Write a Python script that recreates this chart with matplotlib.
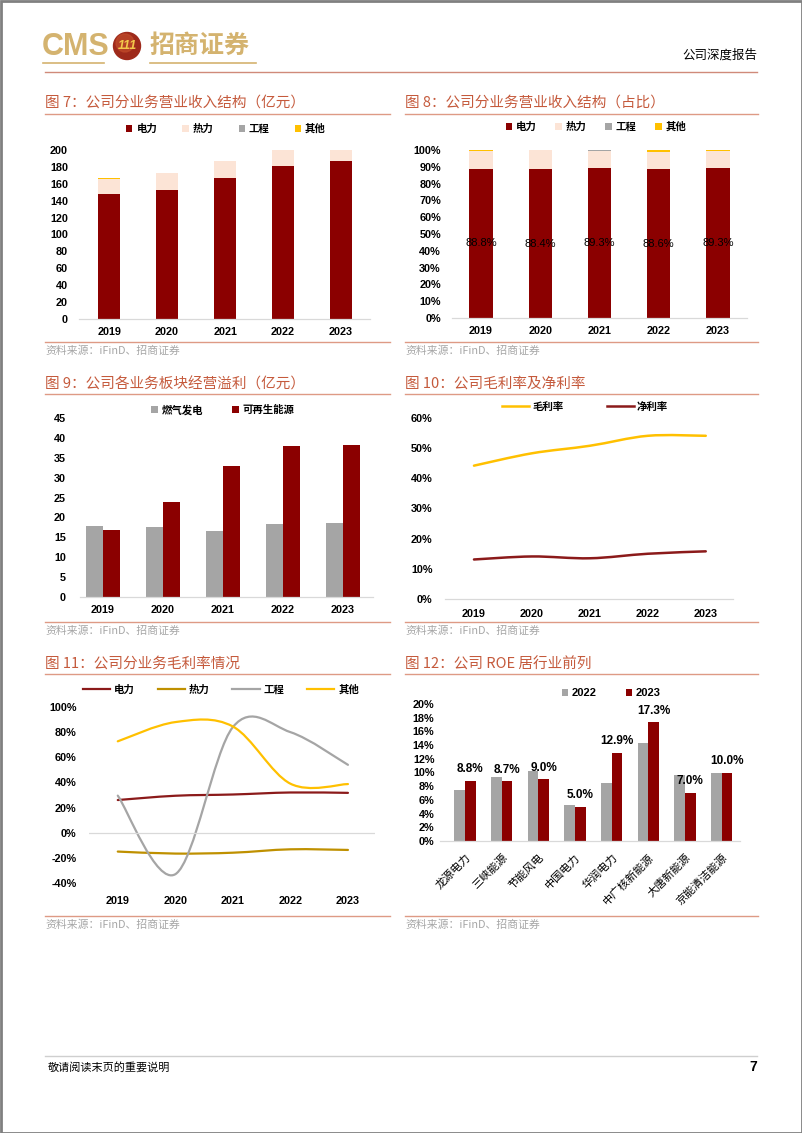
import matplotlib
matplotlib.use('Agg')
import matplotlib.pyplot as plt
import numpy as np
from matplotlib.path import Path
from matplotlib.patches import PathPatch, Patch, Circle, Rectangle
from matplotlib.lines import Line2D
from matplotlib.ticker import FuncFormatter

plt.rcParams['font.family'] = ['Liberation Sans', 'Noto Sans CJK SC', 'DejaVu Sans']

# ---------------- data ----------------
years = ['2019', '2020', '2021', '2022', '2023']

# Fig 7: revenue by segment (亿元)
rev_power = [148, 153, 167, 181, 187]
rev_heat = [17.6, 19.9, 19.4, 21.3, 21.1]
rev_eng = [0.3, 0.2, 0.2, 0.2, 0.2]
rev_other = [0.7, 0.0, 0.6, 1.8, 1.0]
rev_labels = ['电力', '热力', '工程', '其他']

# Fig 8: revenue share (%)
pct_power = [88.8, 88.4, 89.3, 88.6, 89.3]
pct_heat = [10.6, 11.5, 10.4, 10.4, 10.1]
pct_eng = [0.2, 0.1, 0.1, 0.1, 0.1]
pct_other = [0.4, 0.0, 0.2, 0.9, 0.5]

# Fig 9: segment operating profit (亿元)
seg_labels = ['燃气发电', '可再生能源']
seg_gas = [17.95, 17.6, 16.7, 18.4, 18.7]
seg_renew = [16.9, 23.8, 33.0, 37.9, 38.2]

# Fig 10: margins (%)
margin_labels = ['毛利率', '净利率']
gross_margin = [44.2, 48.3, 50.8, 54.1, 54.1]
net_margin = [13.1, 14.1, 13.5, 15.0, 15.8]

# Fig 11: gross margin by segment (%)
gm_labels = ['电力', '热力', '工程', '其他']
gm_power = [26.0, 29.4, 30.4, 32.0, 31.7]
gm_heat = [-15.0, -16.6, -15.9, -13.2, -13.7]
gm_eng = [29.5, -33.0, 84.0, 80.0, 54.0]
gm_other = [72.7, 88.0, 84.5, 39.0, 38.7]

# Fig 12: ROE comparison (%)
roe_companies = ['龙源电力', '三峡能源', '节能风电', '中国电力', '华润电力', '中广核新能源', '大唐新能源', '京能清洁能源']
roe_2022 = [7.4, 9.3, 10.2, 5.3, 8.5, 14.3, 9.7, 9.95]
roe_2023 = [8.8, 8.7, 9.0, 5.0, 12.9, 17.3, 7.0, 10.0]
roe_years = ['2022', '2023']

# ---------------- styles ----------------
W, H = 802, 1133
RED = '#8B0000'
PINK = '#FCE4D6'
GRAY = '#A5A5A5'
YEL = '#FFC000'
TITLE_C = '#C55A3C'
LINE_C = '#DE9A85'
SRC_C = '#A6A6A6'
AX_C = '#D9D9D9'
CJK = ['Noto Sans CJK SC', 'DejaVu Sans']
TICKFS = 7.8

fig = plt.figure(figsize=(W / 100, H / 100), dpi=100)
bg = fig.add_axes([0, 0, 1, 1], zorder=0)
bg.set_xlim(0, W)
bg.set_ylim(H, 0)
bg.axis('off')


def add_ax(l, t, r, b):
    ax = fig.add_axes([l / W, 1 - b / H, (r - l) / W, (b - t) / H], zorder=2)
    ax.set_facecolor('none')
    for s in ['top', 'right', 'left']:
        ax.spines[s].set_visible(False)
    ax.spines['bottom'].set_color(AX_C)
    ax.spines['bottom'].set_linewidth(0.9)
    ax.tick_params(length=0, labelsize=TICKFS)
    return ax


def bold_ticks(ax):
    for lab in ax.get_xticklabels() + ax.get_yticklabels():
        lab.set_fontweight('bold')
        lab.set_fontsize(TICKFS)


def panel(x0, x1, ytitle, yline, ysrc, title):
    bg.text(x0, ytitle, title, color=TITLE_C, fontsize=10.5, va='center', ha='left', family=CJK)
    bg.plot([x0, x1], [yline, yline], color=LINE_C, lw=1.0)
    bg.plot([x0, x1], [ysrc, ysrc], color=LINE_C, lw=1.0)
    bg.text(x0, ysrc + 9, '资料来源：iFinD、招商证券', color=SRC_C, fontsize=7.8, va='center', ha='left', family=CJK)


def legend(ax, handles, labels, cx, cy, **kw):
    leg = ax.legend(handles, labels, loc='center', bbox_to_anchor=(cx / W, 1 - cy / H),
                    bbox_transform=fig.transFigure, ncol=len(labels), frameon=False,
                    prop={'family': CJK, 'size': 7.5, 'weight': 'bold'}, borderpad=0, **kw)
    return leg


def smooth(ax, xs, ys, **kw):
    pts = np.column_stack([xs, ys]).astype(float)
    n = len(pts)
    verts = [pts[0]]
    codes = [Path.MOVETO]
    for i in range(n - 1):
        p0 = pts[max(i - 1, 0)]
        p1 = pts[i]
        p2 = pts[i + 1]
        p3 = pts[min(i + 2, n - 1)]
        c1 = p1 + (p2 - p0) / 6.0
        c2 = p2 - (p3 - p1) / 6.0
        verts += [c1, c2, p2]
        codes += [Path.CURVE4] * 3
    ax.add_patch(PathPatch(Path(verts, codes), fill=False, capstyle='round', **kw))


# ---------------- page decoration ----------------
bg.add_patch(Rectangle((0.5, 0.5), W - 1, H - 1, fill=False, ec='#808080', lw=2))
bg.text(42, 47, 'CMS', color='#D4B36F', fontsize=22, fontweight='bold', va='center', ha='left',
        family=['Liberation Sans Narrow', 'Liberation Sans'])
bg.add_patch(Circle((127, 46), 13.5, color='#9E2A1B'))
bg.add_patch(Circle((125, 43), 9, color='#C04A2A', alpha=0.7))
bg.text(127, 46, '111', color='#F2C84B', fontsize=9, fontweight='bold', style='italic', ha='center', va='center')
bg.text(150, 46, '招商证券', color='#D4B36F', fontsize=18, fontweight='bold', va='center', ha='left', family=CJK)
bg.plot([43, 104], [63, 63], color='#D4B36F', lw=1.2)
bg.plot([150, 256], [63, 63], color='#D4B36F', lw=1.2)
bg.text(757, 55, '公司深度报告', fontsize=9, va='center', ha='right', family=CJK)
bg.plot([45, 757], [72, 72], color='#D08A7A', lw=1.0)
bg.plot([45, 757], [1056, 1056], color='#CFCFCF', lw=1.0)
bg.text(48, 1067, '敬请阅读末页的重要说明', fontsize=8, va='center', ha='left', family=CJK)
bg.text(757, 1067, '7', fontsize=10, fontweight='bold', va='center', ha='right')

# ---------------- Fig 7 ----------------
panel(45, 390, 103, 114, 342, '图 7：公司分业务营业收入结构（亿元）')
ax = add_ax(79, 150, 370, 319)
x = np.arange(len(years))
w = 0.38
b1 = ax.bar(x, rev_power, w, color=RED)
bot = np.array(rev_power, float)
b2 = ax.bar(x, rev_heat, w, bottom=bot, color=PINK)
bot = bot + rev_heat
b3 = ax.bar(x, rev_eng, w, bottom=bot, color=GRAY)
bot = bot + rev_eng
b4 = ax.bar(x, rev_other, w, bottom=bot, color=YEL)
ax.set_xlim(-0.52, 4.5)
ax.set_ylim(0, 200)
ax.set_yticks(range(0, 201, 20))
ax.set_xticks(x, years)
ax.tick_params(axis='y', pad=8)
ax.tick_params(axis='x', pad=6)
bold_ticks(ax)
legend(ax, [b1, b2, b3, b4], rev_labels, 226, 129, handlelength=0.6, handleheight=0.6,
       handletextpad=0.4, columnspacing=2.4)

# ---------------- Fig 8 ----------------
panel(405, 758, 103, 114, 342, '图 8：公司分业务营业收入结构（占比）')
ax = add_ax(452, 150, 747, 318)
w = 0.39
c1 = ax.bar(x, pct_power, w, color=RED)
bot = np.array(pct_power, float)
c2 = ax.bar(x, pct_heat, w, bottom=bot, color=PINK)
bot = bot + pct_heat
c3 = ax.bar(x, pct_eng, w, bottom=bot, color=GRAY)
bot = bot + pct_eng
c4 = ax.bar(x, pct_other, w, bottom=bot, color=YEL)
ax.bar_label(c1, labels=[f'{v:.1f}%' for v in pct_power], label_type='center', fontsize=8, color='black')
ax.set_xlim(-0.49, 4.49)
ax.set_ylim(0, 100)
ax.set_yticks(range(0, 101, 10))
ax.yaxis.set_major_formatter(FuncFormatter(lambda v, p: f'{v:.0f}%'))
ax.set_xticks(x, years)
ax.tick_params(axis='y', pad=8)
ax.tick_params(axis='x', pad=6)
bold_ticks(ax)
legend(ax, [c1, c2, c3, c4], rev_labels, 596, 127, handlelength=0.6, handleheight=0.6,
       handletextpad=0.4, columnspacing=1.8)

# ---------------- Fig 9 ----------------
panel(45, 390, 384, 394, 622, '图 9：公司各业务板块经营溢利（亿元）')
ax = add_ax(80, 418, 373, 597)
w = 0.28
d1 = ax.bar(x - w / 2, seg_gas, w, color=GRAY)
d2 = ax.bar(x + w / 2, seg_renew, w, color=RED)
ax.set_xlim(-0.38, 4.5)
ax.set_ylim(0, 45)
ax.set_yticks(range(0, 46, 5))
ax.set_xticks(x, years)
ax.tick_params(axis='y', pad=10)
ax.tick_params(axis='x', pad=6)
bold_ticks(ax)
legend(ax, [d1, d2], seg_labels, 223, 410, handlelength=0.6, handleheight=0.6,
       handletextpad=0.4, columnspacing=2.8)

# ---------------- Fig 10 ----------------
panel(405, 758, 384, 394, 622, '图 10：公司毛利率及净利率')
ax = add_ax(445, 418, 733, 599)
smooth(ax, x, gross_margin, color=YEL, lw=1.8)
smooth(ax, x, net_margin, color='#8B1A1A', lw=1.8)
ax.set_xlim(-0.5, 4.47)
ax.set_ylim(0, 60)
ax.set_yticks(range(0, 61, 10))
ax.yaxis.set_major_formatter(FuncFormatter(lambda v, p: f'{v:.0f}%'))
ax.set_xticks(x, years)
ax.tick_params(axis='y', pad=9)
ax.tick_params(axis='x', pad=7)
bold_ticks(ax)
h10 = [Line2D([], [], color=YEL, lw=1.8), Line2D([], [], color='#8B1A1A', lw=1.8)]
legend(ax, h10, margin_labels, 585, 407, handlelength=2.6, handletextpad=0.3, columnspacing=4.2)

# ---------------- Fig 11 ----------------
panel(45, 390, 664, 674, 916, '图 11：公司分业务毛利率情况')
ax = add_ax(89, 707, 375, 883)
ax.spines['bottom'].set_visible(False)
ax.axhline(0, color=AX_C, lw=0.9)
cols11 = ['#8B1A1A', '#BF9000', GRAY, YEL]
for ys, c in zip([gm_power, gm_heat, gm_eng, gm_other], cols11):
    smooth(ax, x, ys, color=c, lw=1.6)
ax.set_xlim(-0.5, 4.47)
ax.set_ylim(-40, 100)
ax.set_yticks(range(-40, 101, 20))
ax.yaxis.set_major_formatter(FuncFormatter(lambda v, p: f'{v:.0f}%'))
ax.set_xticks(x, years)
ax.tick_params(axis='y', pad=9)
ax.tick_params(axis='x', pad=9)
bold_ticks(ax)
h11 = [Line2D([], [], color=c, lw=1.6) for c in cols11]
legend(ax, h11, gm_labels, 221, 690, handlelength=2.6, handletextpad=0.4, columnspacing=2.2)

# ---------------- Fig 12 ----------------
panel(405, 758, 664, 674, 916, '图 12：公司 ROE 居行业前列')
ax = add_ax(440, 704, 740, 841)
xc = np.arange(len(roe_companies))
w = 0.29
e1 = ax.bar(xc - w / 2, roe_2022, w, color=GRAY)
e2 = ax.bar(xc + w / 2, roe_2023, w, color=RED)
ax.bar_label(e2, labels=[f'{v:.1f}%' for v in roe_2023], padding=4, fontsize=8.5, fontweight='bold')
ax.set_xlim(-0.68, 7.5)
ax.set_ylim(0, 20)
ax.set_yticks(range(0, 21, 2))
ax.yaxis.set_major_formatter(FuncFormatter(lambda v, p: f'{v:.0f}%'))
ax.set_xticks(xc, roe_companies)
ax.tick_params(axis='y', pad=4)
bold_ticks(ax)
for lab in ax.get_xticklabels():
    lab.set_rotation(45)
    lab.set_ha('right')
    lab.set_va('top')
    lab.set_rotation_mode('anchor')
    lab.set_family(CJK)
    lab.set_fontweight('normal')
    lab.set_fontsize(8)
ax.tick_params(axis='x', pad=8)
leg = ax.legend([e1, e2], roe_years, loc='center', bbox_to_anchor=(611 / W, 1 - 693 / H),
                bbox_transform=fig.transFigure, ncol=2, frameon=False, borderpad=0,
                prop={'size': 8, 'weight': 'bold'}, handlelength=0.6, handleheight=0.6,
                handletextpad=0.3, columnspacing=2.6)

fig.savefig('out.png', dpi=100)
